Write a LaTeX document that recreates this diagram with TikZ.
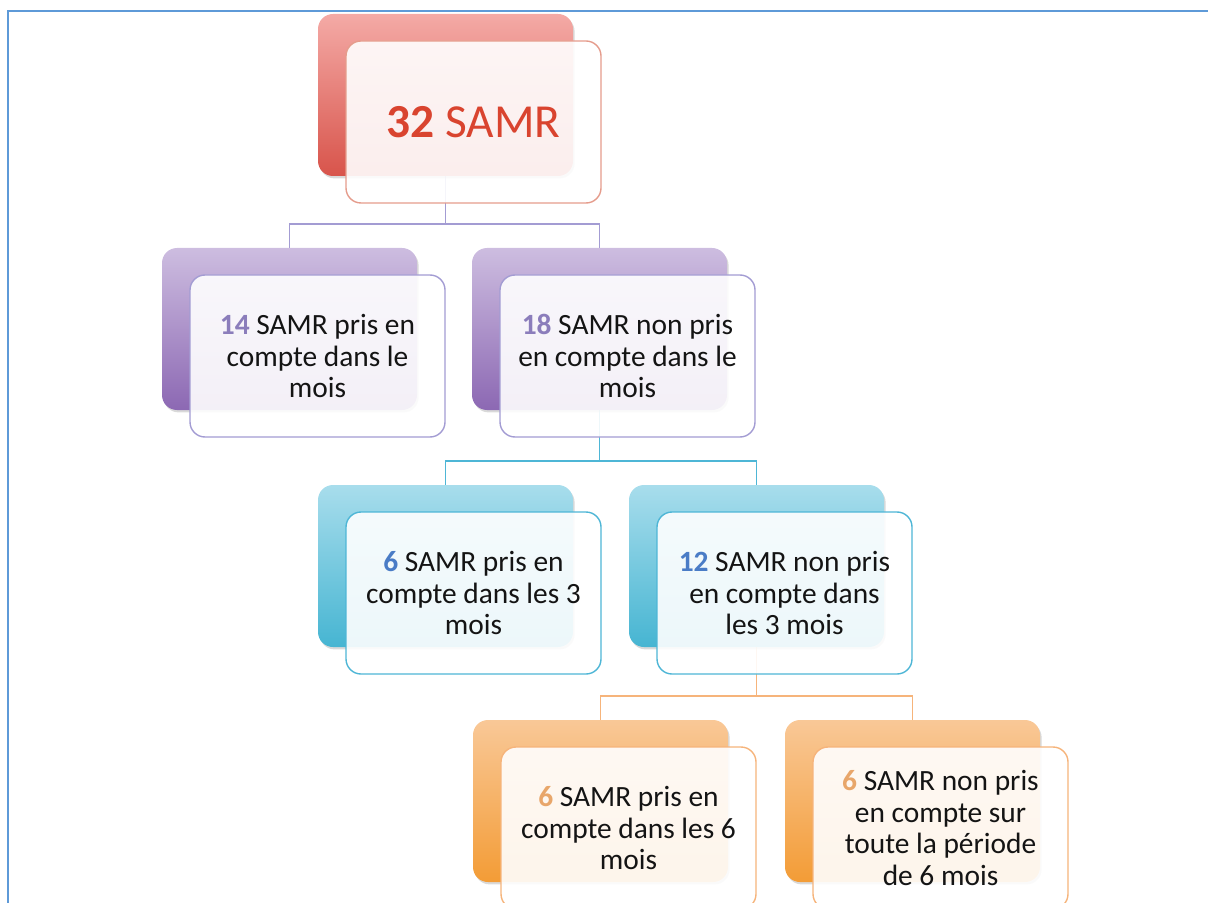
\documentclass[tikz,border=0pt]{standalone}
\usepackage{fontspec}
\setmainfont{Carlito}
\usetikzlibrary{backgrounds, shadows, positioning}

\definecolor{frameblue}{HTML}{5E9AD8}
\definecolor{topRed}{HTML}{F4AAA6}
\definecolor{botRed}{HTML}{D8544B}
\definecolor{lineRed}{HTML}{E59C8C}
\definecolor{numRed}{HTML}{D9442F}
\definecolor{topPurple}{HTML}{CDBDE0}
\definecolor{botPurple}{HTML}{8C68B3}
\definecolor{linePurple}{HTML}{A39CD3}
\definecolor{numPurple}{HTML}{8B7DBB}
\definecolor{topCyan}{HTML}{A8DDEC}
\definecolor{botCyan}{HTML}{46B5D2}
\definecolor{lineCyan}{HTML}{4EB6D6}
\definecolor{numCyan}{HTML}{4A7CC6}
\definecolor{topOrange}{HTML}{F9C897}
\definecolor{botOrange}{HTML}{F39C36}
\definecolor{lineOrange}{HTML}{F6B47B}
\definecolor{numOrange}{HTML}{E8A66A}

\tikzset{
  back/.style={rounded corners=7.5pt, minimum width=127.5pt, minimum height=81pt,
    inner sep=0pt, drop shadow={opacity=0.3, shadow xshift=0.8pt, shadow yshift=-1.2pt}},
  front/.style={draw, line width=0.7pt, rounded corners=7.5pt, minimum width=127.5pt,
    minimum height=81pt, fill=white, fill opacity=0.9, text opacity=1, align=center,
    inner sep=0pt, text=black!92, font=\fontsize{14.7}{15.7}\selectfont},
  link/.style={line width=0.8pt},
}

\begin{document}
\begin{tikzpicture}[x=0.5pt, y=-0.5pt]
\useasboundingbox (0,0) rectangle (1208,903);
% Frame round the page
\draw [frameblue, line width=1.2pt] (8,903) -- (8,11) -- (1208,11);
% The top box
\node [back, top color=topRed, bottom color=botRed] (root) at (445.5,95) {};
\node [front, draw=lineRed, text=numRed, font=\fontsize{23.7}{26}\selectfont]
  (root-txt) at ([xshift=14pt, yshift=-13.5pt]root.center) {\textbf{32} SAMR};
% The other boxes: a coloured box behind, the text box in front
\foreach \nm/\x/\y/\col/\num/\txt in {
  pris1/289.5/329/Purple/14/{SAMR pris en\\compte dans le\\mois},
  nonpris1/599.5/329/Purple/18/{SAMR non pris\\en compte dans le\\mois},
  pris3/445.5/566/Cyan/6/{SAMR pris en\\compte dans les 3\\mois},
  nonpris3/756.5/566/Cyan/12/{SAMR non pris\\en compte dans\\les 3 mois},
  pris6/600.5/801/Orange/6/{SAMR pris en\\compte dans les 6\\mois},
  nonpris6/912.5/801/Orange/6/{SAMR non pris\\en compte sur\\toute la période\\de 6 mois}} {
  \node [back, top color=top\col, bottom color=bot\col] (\nm) at (\x,\y) {};
  \node [front, draw=line\col] (\nm-txt) at ([xshift=14pt, yshift=-13.5pt]\nm.center)
    {\textcolor{num\col}{\textbf{\num}} \txt};
}
% Connectors behind the boxes
\begin{scope}[on background layer]
\foreach \from/\to/\col in {
  root/pris1/Purple, root/nonpris1/Purple,
  nonpris1/pris3/Cyan, nonpris1/nonpris3/Cyan,
  nonpris3/pris6/Orange, nonpris3/nonpris6/Orange} {
  \draw [link, draw=line\col] (\from.south) |- ([yshift=11.75pt]\to.north) -- (\to.north);
}
\end{scope}
\end{tikzpicture}
\end{document}
